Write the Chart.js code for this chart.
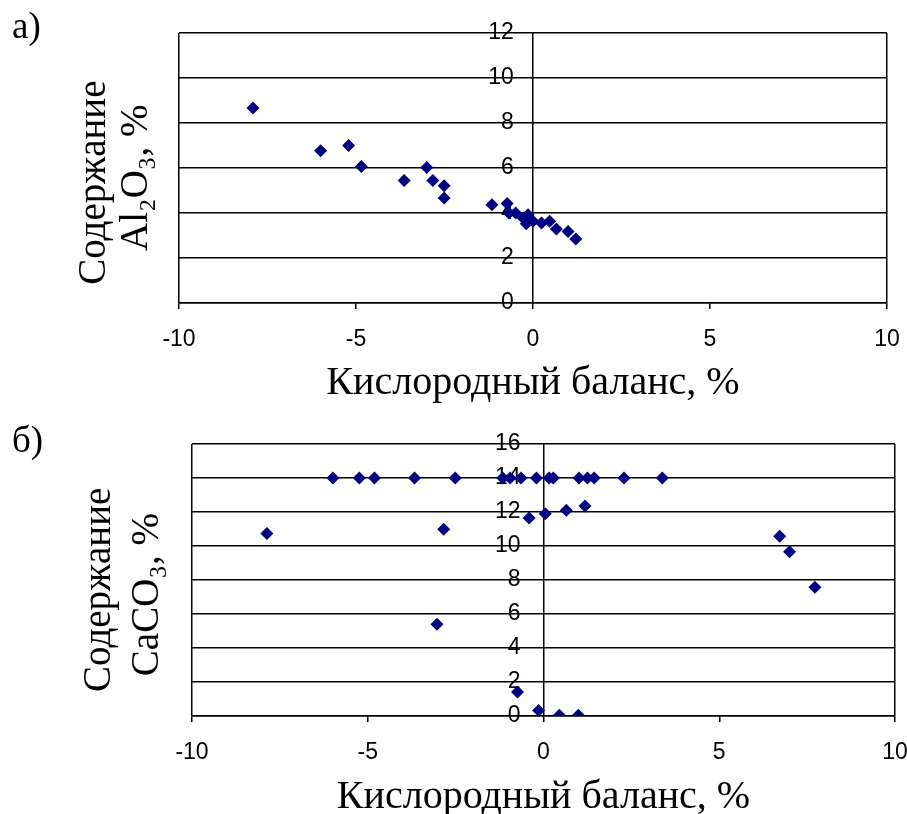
<!DOCTYPE html>
<html lang="ru">
<head>
<meta charset="utf-8">
<title>Кислородный баланс</title>
<script src="https://cdn.jsdelivr.net/npm/chart.js@4"></script>
<style>
    html, body { margin: 0; padding: 0; background: #fff; overflow: hidden; }
    #page { position: relative; width: 907px; height: 814px; overflow: hidden; }
    .panel { position: absolute; left: 0; width: 907px; overflow: hidden; }
    .tag { position: absolute; left: 12px; font: 37px 'Liberation Serif', 'Times New Roman', serif; line-height: 1; color: #000; }
</style>
</head>
<body>
<div id="page">
    <div class="panel" style="top: 0; height: 410px;"><canvas id="chartA"></canvas></div>
    <div class="panel" style="top: 410px; height: 404px;"><canvas id="chartB"></canvas></div>
    <div class="tag" style="top: 7px;">а)</div>
    <div class="tag" style="top: 421px;">б)</div>
</div>
<script>
// а) Al2O3 content vs oxygen balance
const balanceA = [-7.91, -6.0, -5.21, -4.85, -3.64, -3.0, -2.83, -2.51, -2.51, -1.16, -0.73,
    -0.68, -0.49, -0.28, -0.14, -0.19, 0.0, 0.24, 0.47, 0.66, 0.99, 1.21];
const al2o3 = [8.67, 6.77, 7.0, 6.07, 5.45, 6.02, 5.45, 5.21, 4.67, 4.37, 4.42,
    4.0, 4.0, 3.78, 3.92, 3.52, 3.63, 3.56, 3.63, 3.29, 3.18, 2.84];

// б) CaCO3 content vs oxygen balance
const balanceB = [-7.87, -5.99, -5.24, -4.81, -3.67, -2.51, -1.16, -0.95, -0.64, -0.2, 0.16,
    0.28, 1.01, 1.25, 1.44, 2.29, 3.38, -2.84, -3.03, -0.41, 0.05, 0.65, 1.18,
    6.72, 7.0, 7.72, -0.74, -0.14, 0.45, 0.99];
const caco3 = [10.74, 14, 14, 14, 14, 14, 14, 14, 14, 14, 14,
    14, 14, 14, 14, 14, 14, 10.98, 5.4, 11.65, 11.9, 12.1, 12.35,
    10.58, 9.66, 7.57, 1.41, 0.33, 0.04, 0.04];

const xTicks = [-10, -5, 0, 5, 10];
const xTitle = 'Кислородный баланс, %';
const yTitleA = ['Содержание   ', 'Al₂O₃, %  '];
const yTitleB = ['Содержание  ', 'CaCO₃, %   '];

const tickFont = { family: "'Liberation Sans', Arial, sans-serif", size: 23 };
const titleFont = { family: "'Liberation Serif', 'Times New Roman', serif", size: 40 };
const yTitleFont = { family: "'Liberation Serif', 'Times New Roman', serif", size: 39 };

function makePanel(canvasId, xs, ys, cfg) {
    const points = xs.map((x, i) => ({ x: x, y: ys[i] }));
    const canvas = document.getElementById(canvasId);
    canvas.width = cfg.width;
    canvas.height = cfg.height;
    canvas.style.width = cfg.width + 'px';
    canvas.style.height = cfg.height + 'px';

    return new Chart(canvas, {
        type: 'scatter',
        data: {
            datasets: [{
                data: points,
                pointStyle: 'rectRot',
                pointRadius: 6.5,
                pointHoverRadius: 6.5,
                backgroundColor: '#000080',
                borderColor: '#000080',
                borderWidth: 0
            }]
        },
        options: {
            responsive: false,
            animation: false,
            events: [],
            layout: {
                padding: { top: cfg.top, right: cfg.width - cfg.right, left: 0, bottom: 0 }
            },
            plugins: {
                legend: { display: false },
                tooltip: { enabled: false }
            },
            scales: {
                x: {
                    type: 'linear',
                    min: -10,
                    max: 10,
                    afterBuildTicks: (scale) => { scale.ticks = xTicks.map(v => ({ value: v })); },
                    afterFit: (scale) => { scale.height = cfg.height - cfg.bottom; },
                    ticks: { font: tickFont, color: '#000', padding: 17, maxRotation: 0 },
                    grid: {
                        color: (ctx) => (ctx.tick && Math.abs(ctx.tick.value) === 10) ? '#000' : 'rgba(0,0,0,0)',
                        lineWidth: 1.5,
                        drawTicks: true,
                        tickLength: 6,
                        tickColor: '#000',
                        tickWidth: 1.5
                    },
                    border: { display: true, color: '#000', width: 1.5 },
                    title: {
                        display: true,
                        text: xTitle,
                        font: Object.assign({ lineHeight: 1.2 }, titleFont),
                        color: '#000',
                        padding: { top: 0, bottom: cfg.xTitlePad }
                    }
                },
                y: {
                    type: 'linear',
                    position: { x: 0 },
                    min: 0,
                    max: cfg.yMax,
                    ticks: {
                        stepSize: 2,
                        font: tickFont,
                        color: '#000',
                        callback: (v) => v + cfg.labelGap
                    },
                    grid: { color: '#000', lineWidth: 1.5, drawTicks: false },
                    border: { display: true, color: '#000', width: 1.5 }
                },
                yTitle: {
                    type: 'linear',
                    axis: 'y',
                    position: 'left',
                    afterFit: (scale) => { scale.width = cfg.left; },
                    ticks: { display: false },
                    grid: { display: false },
                    border: { display: false },
                    title: {
                        display: true,
                        text: cfg.yTitle,
                        font: Object.assign({ lineHeight: cfg.yLine / yTitleFont.size }, yTitleFont),
                        color: '#000',
                        padding: { top: cfg.yFirst - cfg.yLine / 2, bottom: 0 }
                    }
                }
            }
        }
    });
}

makePanel('chartA', balanceA, al2o3, {
    width: 920, height: 410, top: 33, bottom: 303, left: 179, right: 887, xTitlePad: 3,
    yMax: 12, labelGap: '   ', yTitle: yTitleA, yLine: 42, yFirst: 95
});

makePanel('chartB', balanceB, caco3, {
    width: 930, height: 414, top: 34, bottom: 306, left: 192, right: 895, xTitlePad: 3,
    yMax: 16, labelGap: '\u2002\u2002', yTitle: yTitleB, yLine: 48, yFirst: 100
});
</script>
</body>
</html>
